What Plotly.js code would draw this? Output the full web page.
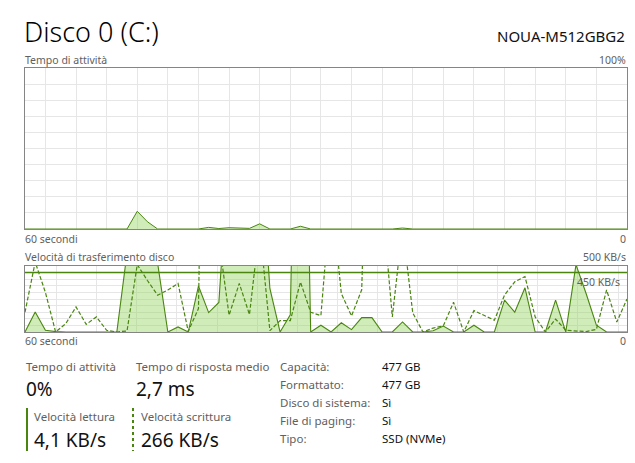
<!DOCTYPE html>
<html>
<head>
<meta charset="utf-8">
<script src="https://cdn.plot.ly/plotly-3.0.1.min.js"></script>
<style>
  html, body { margin: 0; padding: 0; background: #fff; }
  #plot { width: 635px; height: 463px; }
</style>
</head>
<body>
<div id="plot"></div>
<script>
// 60 one-second samples, oldest on the left
const samples = [...Array(60).keys()];

// Tempo di attività (%)
const activeTime = [
  0, 0, 0, 0, 0, 0, 0, 0, 0, 0,
  0, 11, 4.5, 0, 0, 0, 0, 0, 1, 0.3,
  0.8, 0.4, 0.4, 3.2, 0, 0, 0, 1.7, 0, 0,
  0, 0, 0, 0, 0, 0, 0, 0.6, 0, 0,
  0, 0, 0, 0, 0, 0, 0, 0, 0, 0,
  0, 0, 0, 0, 0, 0, 0, 0, 0, 0
];

// Velocità lettura (KB/s) - solid, filled
const readSpeed = [
  0, 152, 13, 3, 0, 0, 0, 0, 0, 0,
  600, 900, 900, 520, 0, 38, 0, 348, 147, 224,
  1400, 1200, 1100, 1500, 330, 0, 130, 4000, 0, 51,
  0, 70, 18, 109, 109, 0, 0, 76, 0, 0,
  10, 45, 0, 0, 51, 0, 0, 241, 150, 335,
  0, 0, 241, 0, 510, 290, 51, 0, 0, 0
];

// Velocità scrittura (KB/s) - dashed
const writeSpeed = [
  150, 530, 300, 0, 64, 190, 58, 114, 13, 0,
  8, 510, 390, 279, 318, 368, 5, 178, 5000, 700,
  127, 368, 132, 800, 10, 86, 86, 378, 150, 124,
  1064, 292, 122, 320, 3000, 1000, 114, 800, 145, 0,
  30, 47, 225, 0, 162, 127, 89, 280, 380, 420,
  114, 0, 98, 13, 6, 3, 20, 318, 76, 250
];

const activeMax = 100;
const transferMax = 500;
const markLevel = 450;

const detailLabels = ["Capacità:", "Formattato:", "Disco di sistema:", "File di paging:", "Tipo:"];
const detailValues = ["477 GB", "477 GB", "Sì", "Sì", "SSD (NVMe)"];

const W = 635, H = 463;
const px = x => x / W;
const py = y => 1 - y / H;

const green = "#4a8510";
const fillGreen = "rgba(150,212,100,0.45)";
const frame = "#858585";
const grid = "#e6e6e6";
const labelGray = "#606060";
const font = "Noto Sans, sans-serif";

const traces = [
  {
    x: samples, y: activeTime, xaxis: "x", yaxis: "y",
    type: "scatter", mode: "lines", fill: "tozeroy",
    fillcolor: fillGreen, line: { color: green, width: 1 },
    hoverinfo: "skip"
  },
  {
    x: samples, y: readSpeed, xaxis: "x2", yaxis: "y2",
    type: "scatter", mode: "lines", fill: "tozeroy",
    fillcolor: fillGreen, line: { color: green, width: 1.1 },
    hoverinfo: "skip"
  },
  {
    x: samples, y: writeSpeed, xaxis: "x2", yaxis: "y2",
    type: "scatter", mode: "lines",
    line: { color: green, width: 1.2, dash: "4px,2px" },
    hoverinfo: "skip"
  }
];

function frameAxis(extra) {
  return Object.assign({
    showline: true, mirror: true, linecolor: frame, linewidth: 1,
    showgrid: true, gridcolor: grid, gridwidth: 1,
    zeroline: false, showticklabels: false, ticks: "",
    fixedrange: true
  }, extra);
}

function label(text, x, y, size, color, anchor, extra) {
  return Object.assign({
    text: text, xref: "paper", yref: "paper",
    x: px(x), y: py(y), xanchor: anchor || "left", yanchor: "middle",
    showarrow: false, font: { family: font, size: size, color: color }
  }, extra || {});
}

const annotations = [
  label("Disco 0 (C:)", 22, 32, 27, "#000", "left", { font: { family: font, size: 27, color: "#000", weight: 300 } }),
  label("NOUA-M512GBG2", 627, 36, 15, "#111", "right"),
  label("Tempo di attività", 23, 60, 10.5, labelGray),
  label("100%", 628, 60, 10.5, labelGray, "right"),
  label("60 secondi", 23, 239, 10.5, labelGray),
  label("0", 628, 239, 10.5, labelGray, "right"),
  label("Velocità di trasferimento disco", 23, 257, 10.5, labelGray),
  label("500 KB/s", 628, 257, 10.5, labelGray, "right"),
  label("450 KB/s", 622, 282, 10.5, labelGray, "right"),
  label("60 secondi", 23, 341, 10.5, labelGray),
  label("0", 628, 341, 10.5, labelGray, "right"),

  label("Tempo di attività", 24, 366, 11.5, labelGray),
  label("0%", 24, 389, 19, "#111"),
  label("Tempo di risposta medio", 134, 366, 11.5, labelGray),
  label("2,7 ms", 134, 389, 19, "#111"),
  label("Velocità lettura", 32, 416, 11.5, labelGray),
  label("4,1 KB/s", 32, 440, 19, "#111"),
  label("Velocità scrittura", 139, 416, 11.5, labelGray),
  label("266 KB/s", 139, 440, 19, "#111")
];

detailLabels.forEach((t, i) => {
  annotations.push(label(t, 278, 366 + i * 18, 11.5, labelGray));
  annotations.push(label(detailValues[i], 380, 366 + i * 18, 11.5, "#111"));
});

const shapes = [
  {
    type: "line", xref: "x2 domain", yref: "y2", x0: 0, x1: 1,
    y0: markLevel, y1: markLevel, line: { color: green, width: 1.5 }
  },
  {
    type: "line", xref: "paper", yref: "paper",
    x0: px(27), x1: px(27), y0: py(408), y1: py(451),
    line: { color: green, width: 2 }
  },
  {
    type: "line", xref: "paper", yref: "paper",
    x0: px(133), x1: px(133), y0: py(408), y1: py(451),
    line: { color: green, width: 2, dash: "dot" }
  }
];

const layout = {
  width: W, height: H,
  margin: { l: 0, r: 0, t: 0, b: 0 },
  paper_bgcolor: "#fff", plot_bgcolor: "#fff",
  showlegend: false,
  xaxis: frameAxis({ domain: [px(25), px(627)], range: [0, 59], tick0: 2, dtick: 3, anchor: "y" }),
  yaxis: frameAxis({ domain: [py(229), py(68)], range: [0, activeMax], dtick: 10, anchor: "x" }),
  xaxis2: frameAxis({ domain: [px(25), px(627)], range: [0, 59], tick0: 3.1, dtick: 3.93, anchor: "y2" }),
  yaxis2: frameAxis({ domain: [py(332), py(266)], range: [0, transferMax], dtick: 50, anchor: "x2" }),
  annotations: annotations,
  shapes: shapes
};

Plotly.newPlot("plot", traces, layout, { staticPlot: true, displayModeBar: false });
</script>
</body>
</html>
